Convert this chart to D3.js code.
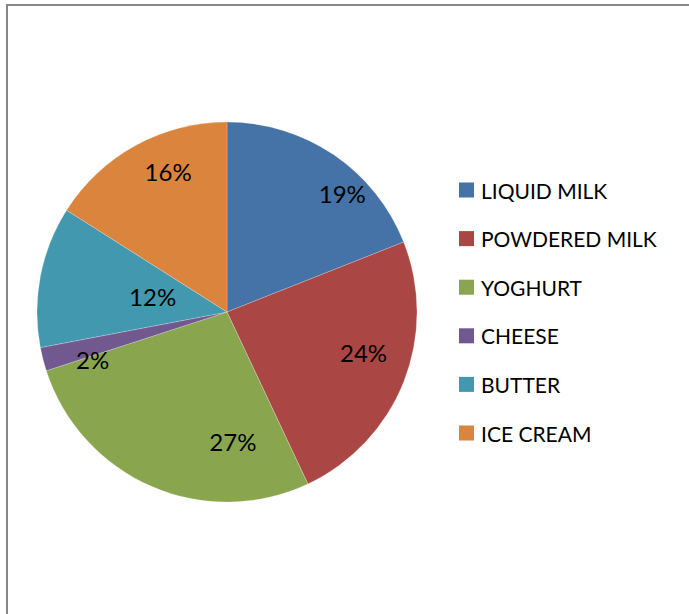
<!DOCTYPE html>
<html>
<head>
<meta charset="utf-8">
<script src="https://cdn.jsdelivr.net/npm/d3@7"></script>
<style>
  html, body { margin: 0; padding: 0; background: #fff; }
  svg { display: block; }
  text { font-family: Lato, "Open Sans", sans-serif; fill: #000; }
</style>
</head>
<body>
<svg id="chart" width="689" height="614"></svg>
<script>
// Dairy product shares (percent)
const categories = ["LIQUID MILK", "POWDERED MILK", "YOGHURT", "CHEESE", "BUTTER", "ICE CREAM"];
const shares = [19, 24, 27, 2, 12, 16];
const colors = ["#4572A7", "#AA4643", "#89A54E", "#71588F", "#4198AF", "#DB843D"];

// Label nudges relative to each slice's middle angle: [degrees shift, radius fraction]
const labelNudge = [[10, 0.87], [-5, 0.75], [-26, 0.68], [-5, 0.75], [1, 0.40], [6, 0.80]];

const W = 689, H = 614;
const cx = 227, cy = 312, R = 190;

const svg = d3.select("#chart");

// chart frame
svg.append("rect")
  .attr("x", 7).attr("y", 5)
  .attr("width", W + 20).attr("height", H + 20)
  .attr("fill", "none")
  .attr("stroke", "#878787")
  .attr("stroke-width", 2);

const data = categories.map((c, i) => ({ name: c, value: shares[i], color: colors[i], nudge: labelNudge[i] }));

const pie = d3.pie().value(d => d.value).sort(null);
const arcs = pie(data);
const arc = d3.arc().innerRadius(0).outerRadius(R);

const g = svg.append("g").attr("transform", `translate(${cx},${cy})`);

g.selectAll("path.slice")
  .data(arcs)
  .join("path")
  .attr("class", "slice")
  .attr("d", arc)
  .attr("fill", d => d.data.color)
  .attr("stroke", "#ffffff")
  .attr("stroke-width", 0.5)
  .attr("stroke-opacity", 0.45);

g.selectAll("text.pct")
  .data(arcs)
  .join("text")
  .attr("class", "pct")
  .attr("transform", d => {
    const mid = (d.startAngle + d.endAngle) / 2 + d.data.nudge[0] * Math.PI / 180;
    const r = R * d.data.nudge[1];
    return `translate(${r * Math.sin(mid)},${-r * Math.cos(mid)})`;
  })
  .attr("text-anchor", "middle")
  .attr("dominant-baseline", "central")
  .style("font-size", "24px")
  .text(d => d.data.value + "%");

// legend
const legend = svg.append("g").attr("transform", "translate(459,190)");
const item = legend.selectAll("g.item")
  .data(data)
  .join("g")
  .attr("class", "item")
  .attr("transform", (d, i) => `translate(0,${i * 48.6})`);

item.append("rect")
  .attr("x", 0).attr("y", -7.5)
  .attr("width", 15).attr("height", 15)
  .attr("fill", d => d.color);

item.append("text")
  .attr("x", 22).attr("y", 0)
  .attr("dominant-baseline", "central")
  .style("font-size", "21px")
  .text(d => d.name);
</script>
</body>
</html>
